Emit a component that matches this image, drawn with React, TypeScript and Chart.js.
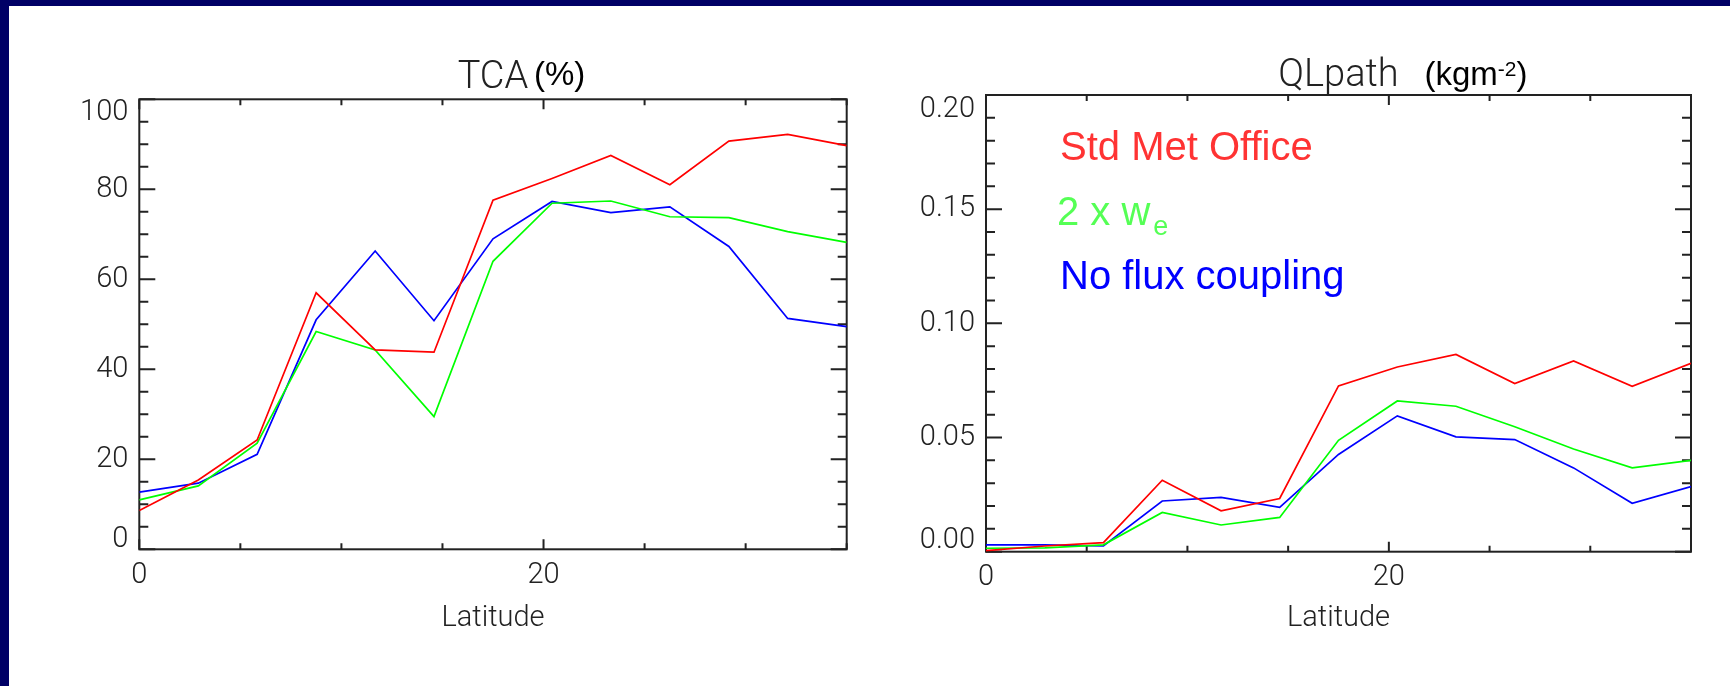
import React, { useEffect, useRef } from 'react';
import { Chart, registerables } from 'chart.js';

Chart.register(...registerables);

// ---------------- data ----------------
const latitude = [0, 2.92, 5.83, 8.75, 11.67, 14.58, 17.5, 20.42, 23.33, 26.25, 29.17, 32.08, 35];

const tcaStdMetOffice = [8.6, 15.4, 24.3, 57.0, 44.3, 43.8, 77.6, 82.4, 87.5, 81.0, 90.7, 92.2, 89.7];
const tcaTwoWe = [11.0, 14.1, 23.6, 48.4, 44.3, 29.5, 64.0, 76.9, 77.4, 73.9, 73.7, 70.6, 68.2];
const tcaNoFlux = [12.7, 14.7, 21.1, 51.0, 66.3, 50.8, 69.0, 77.3, 74.8, 76.1, 67.3, 51.3, 49.5];

const qlStdMetOffice = [0.0005, 0.0025, 0.004, 0.0313, 0.0179, 0.0233, 0.0726, 0.0809, 0.0864, 0.0736, 0.0835, 0.0724, 0.0825];
const qlTwoWe = [0.0015, 0.0017, 0.003, 0.0172, 0.0117, 0.015, 0.0488, 0.066, 0.0637, 0.0547, 0.045, 0.0367, 0.04];
const qlNoFlux = [0.003, 0.003, 0.0025, 0.0222, 0.0238, 0.0194, 0.0426, 0.0595, 0.0503, 0.0491, 0.0367, 0.0212, 0.0285];

const latTickLabels = [0, 20];
const tcaTickLabels = [0, 20, 40, 60, 80, 100];
const qlTickLabels = [0, 0.05, 0.1, 0.15, 0.2];

const legendLabels = ['Std Met Office', '2 x w', 'No flux coupling'];
const legendSubscript = 'e';

// ---------------- styles ----------------
const HERSHEY = "Roboto, 'DejaVu Sans', sans-serif";
const ARIAL = "'Liberation Sans', Arial, Helvetica, sans-serif";
const INK = '#222222';
const RED = '#ff0000';
const GREEN = '#00ff00';
const BLUE = '#0000ff';
const NAVY = '#000066';

function stepList(min: number, max: number, step: number) {
  const out: number[] = [];
  for (let v = min; v <= max + step / 1000; v += step) out.push(Math.round(v * 1e6) / 1e6);
  return out;
}

const idlFramePlugin = {
  id: 'idlFrame',
  beforeDatasetsDraw(chart: any, _args: any, opts: any) {
    const { ctx, chartArea: a, scales } = chart;
    const xs = scales.x;
    const ys = scales.y;
    ctx.save();
    ctx.strokeStyle = INK;
    ctx.lineWidth = 2;
    ctx.strokeRect(a.left, a.top, a.right - a.left, a.bottom - a.top);
    ctx.beginPath();
    const tickX = (v: number, len: number) => {
      const px = xs.getPixelForValue(v);
      ctx.moveTo(px, a.bottom);
      ctx.lineTo(px, a.bottom - len);
      ctx.moveTo(px, a.top);
      ctx.lineTo(px, a.top + len);
    };
    const tickY = (v: number, len: number) => {
      const py = ys.getPixelForValue(v);
      ctx.moveTo(a.left, py);
      ctx.lineTo(a.left + len, py);
      ctx.moveTo(a.right, py);
      ctx.lineTo(a.right - len, py);
    };
    opts.xMinor.forEach((v: number) => tickX(v, 6));
    opts.xMajor.forEach((v: number) => tickX(v, 10));
    opts.yMinor.forEach((v: number) => tickY(v, 9));
    opts.yMajor.forEach((v: number) => tickY(v, 16));
    ctx.stroke();
    ctx.restore();
  },
};

const splitTitlePlugin = {
  id: 'splitTitle',
  afterDraw(chart: any, _args: any, opts: any) {
    const { ctx, chartArea: a } = chart;
    const cx = (a.left + a.right) / 2;
    ctx.save();
    ctx.fillStyle = INK;
    ctx.textAlign = 'center';
    ctx.textBaseline = 'alphabetic';
    ctx.font = `300 38px ${HERSHEY}`;
    ctx.fillText(opts.main, cx, a.top - opts.mainGap);
    ctx.textAlign = 'left';
    ctx.fillStyle = '#000000';
    let x = cx + opts.unitOffset;
    const base = a.top - opts.unitGap;
    for (const part of opts.unitParts) {
      ctx.font = `${part.size}px ${ARIAL}`;
      ctx.fillText(part.text, x, base - part.rise);
      x += ctx.measureText(part.text).width;
    }
    ctx.restore();
  },
};

const textLegendPlugin = {
  id: 'textLegend',
  afterDraw(chart: any, _args: any, opts: any) {
    if (!opts.show) return;
    const { ctx, chartArea: a } = chart;
    const x = a.left + 74;
    ctx.save();
    ctx.textAlign = 'left';
    ctx.textBaseline = 'alphabetic';
    ctx.font = `40px ${ARIAL}`;
    ctx.fillStyle = '#ff3333';
    ctx.fillText(legendLabels[0], x, a.top + 65);
    ctx.fillStyle = '#55ff55';
    ctx.fillText(legendLabels[1], x - 3, a.top + 130);
    const w = ctx.measureText(legendLabels[1]).width;
    ctx.font = `27px ${ARIAL}`;
    ctx.fillText(legendSubscript, x - 3 + w + 3, a.top + 140);
    ctx.font = `40px ${ARIAL}`;
    ctx.fillStyle = '#0000ff';
    ctx.fillText(legendLabels[2], x, a.top + 194);
    ctx.restore();
  },
};

type Panel = {
  series: number[][];
  yMax: number;
  yTicks: number[];
  yMinorStep: number;
  fmt: (v: number) => string;
  yAxisWidth: number;
  padTop: number;
  padRight: number;
  xAxisHeight: number;
  firstShift: number;
  lastShift: number;
  title: any;
  legend: boolean;
};

function makeConfig(p: Panel): any {
  const colors = [RED, GREEN, BLUE];
  const names = ['Std Met Office', '2 x we', 'No flux coupling'];
  return {
    type: 'line',
    data: {
      datasets: p.series.map((s, i) => ({
        label: names[i],
        data: latitude.map((lat, k) => ({ x: lat, y: s[k] })),
        borderColor: colors[i],
        backgroundColor: colors[i],
        borderWidth: 1.7,
        pointRadius: 0,
        tension: 0,
        fill: false,
      })),
    },
    options: {
      responsive: false,
      animation: false,
      devicePixelRatio: 1,
      layout: { padding: { top: p.padTop, right: p.padRight, left: 0, bottom: 0 } },
      plugins: {
        legend: { display: false },
        tooltip: { enabled: false },
        idlFrame: {
          xMajor: latTickLabels,
          xMinor: stepList(0, 35, 5),
          yMajor: p.yTicks,
          yMinor: stepList(0, p.yMax, p.yMinorStep),
        },
        splitTitle: p.title,
        textLegend: { show: p.legend },
      },
      scales: {
        x: {
          type: 'linear',
          min: 0,
          max: 35,
          grid: { display: false, drawTicks: false },
          border: { display: false },
          afterBuildTicks: (scale: any) => {
            scale.ticks = latTickLabels.map((v) => ({ value: v }));
          },
          afterFit: (scale: any) => {
            scale.height = p.xAxisHeight;
          },
          ticks: {
            color: INK,
            padding: 9,
            maxRotation: 0,
            font: { family: HERSHEY, size: 29, weight: '300' },
            callback: (v: any) => String(v),
          },
          title: {
            display: true,
            text: 'Latitude',
            color: INK,
            font: { family: HERSHEY, size: 29, weight: '300' },
            padding: { top: 0, bottom: 50 },
          },
        },
        y: {
          type: 'linear',
          min: 0,
          max: p.yMax,
          grid: { display: false, drawTicks: false },
          border: { display: false },
          afterBuildTicks: (scale: any) => {
            scale.ticks = p.yTicks.map((v) => ({ value: v }));
          },
          afterFit: (scale: any) => {
            scale.width = p.yAxisWidth;
          },
          ticks: {
            color: INK,
            padding: 11,
            font: (ctx: any) => {
              const n = ctx.scale && ctx.scale.ticks ? ctx.scale.ticks.length : 0;
              let lh = '35px';
              if (ctx.index === 0) lh = `${p.firstShift * 2}px`;
              else if (ctx.index === n - 1) lh = `${p.lastShift * 2}px`;
              return { family: HERSHEY, size: 29, weight: '300', lineHeight: lh };
            },
            callback: (v: any, i: number, ticks: any[]) => {
              const s = p.fmt(Number(v));
              if (i === 0) return [s, ''];
              if (i === ticks.length - 1) return ['', s];
              return s;
            },
          },
        },
      },
    },
    plugins: [idlFramePlugin, splitTitlePlugin, textLegendPlugin],
  };
}

function LineChart({ left, width, height, panel }: { left: number; width: number; height: number; panel: Panel }) {
  const ref = useRef<HTMLCanvasElement>(null);
  useEffect(() => {
    const chart = new Chart(ref.current as HTMLCanvasElement, makeConfig(panel));
    return () => chart.destroy();
  }, []);
  return (
    <canvas
      ref={ref}
      width={width}
      height={height}
      style={{ position: 'absolute', left, top: 0, width, height }}
    />
  );
}

const tcaPanel: Panel = {
  series: [tcaStdMetOffice, tcaTwoWe, tcaNoFlux],
  yMax: 100,
  yTicks: tcaTickLabels,
  yMinorStep: 5,
  fmt: (v) => String(v),
  yAxisWidth: 139.3,
  padTop: 99.3,
  padRight: 900 - 846.7,
  xAxisHeight: 686 - 549.3,
  firstShift: 10,
  lastShift: 13,
  title: {
    main: 'TCA',
    mainGap: 11,
    unitOffset: 41,
    unitGap: 14,
    unitParts: [{ text: '(%)', size: 33, rise: 0 }],
  },
  legend: false,
};

const qlPanel: Panel = {
  series: [qlStdMetOffice, qlTwoWe, qlNoFlux],
  yMax: 0.2,
  yTicks: qlTickLabels,
  yMinorStep: 0.01,
  fmt: (v) => v.toFixed(2),
  yAxisWidth: 86,
  padTop: 95,
  padRight: 830 - 791,
  xAxisHeight: 686 - 551.7,
  firstShift: 11,
  lastShift: 15,
  title: {
    main: 'QLpath',
    mainGap: 9,
    unitOffset: 86,
    unitGap: 10,
    unitParts: [
      { text: '(kgm', size: 33, rise: 0 },
      { text: '-2', size: 21, rise: 9 },
      { text: ')', size: 33, rise: 0 },
    ],
  },
  legend: true,
};

export default function App() {
  return (
    <div
      style={{
        position: 'fixed',
        left: 0,
        top: 0,
        width: 1730,
        height: 686,
        background: '#ffffff',
        overflow: 'hidden',
      }}
    >
      <div style={{ position: 'absolute', left: 0, top: 0, width: 1730, height: 6, background: NAVY }} />
      <div style={{ position: 'absolute', left: 0, top: 0, width: 9, height: 686, background: NAVY }} />
      <LineChart left={0} width={900} height={686} panel={tcaPanel} />
      <LineChart left={900} width={830} height={686} panel={qlPanel} />
    </div>
  );
}
